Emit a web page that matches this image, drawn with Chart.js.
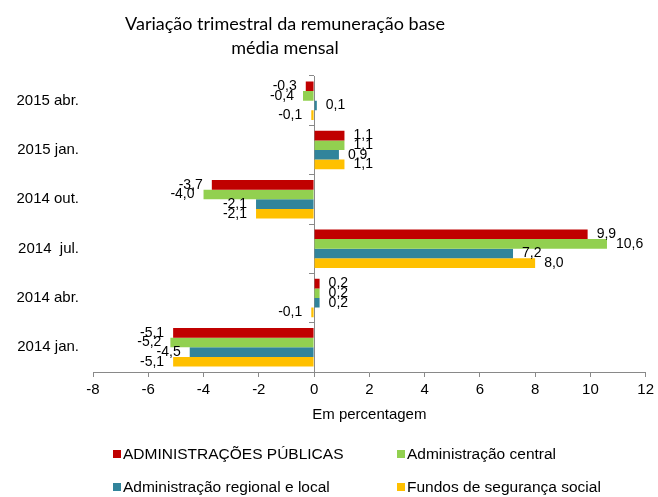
<!DOCTYPE html>
<html lang="pt">
<head>
    <meta charset="UTF-8">
    <title>Variação trimestral da remuneração base média mensal</title>
    <script src="https://cdn.jsdelivr.net/npm/chart.js"></script>
    <style>
        body {
            margin: 0;
            padding: 0;
            background-color: #ffffff;
        }
        #grafico {
            display: block;
        }
    </style>
</head>
<body>
    <canvas id="grafico" width="658" height="497"></canvas>

    <script>
        const titulo = ['Variação trimestral da remuneração base', 'média mensal'];
        const periodos = ['2015 abr.', '2015 jan.', '2014 out.', '2014  jul.', '2014 abr.', '2014 jan.'];
        const series = ['ADMINISTRAÇÕES PÚBLICAS', 'Administração central', 'Administração regional e local', 'Fundos de segurança social'];
        const cores = ['#C00000', '#92D050', '#31849B', '#FFC000'];

        const adminPublicas = [-0.3, 1.1, -3.7, 9.9, 0.2, -5.1];
        const adminCentral = [-0.4, 1.1, -4.0, 10.6, 0.2, -5.2];
        const adminRegional = [0.1, 0.9, -2.1, 7.2, 0.2, -4.5];
        const fundosSS = [-0.1, 1.1, -2.1, 8.0, -0.1, -5.1];

        const eixoX = { min: -8, max: 12, passo: 2 };

        const fonte = 'Liberation Sans, Arial, sans-serif';

        // titulo desenhado a mao para ficar centrado como no original
        const pluginTitulo = {
            id: 'titulo',
            afterDraw(chart) {
                const ctx = chart.ctx;
                ctx.save();
                ctx.fillStyle = '#000';
                ctx.font = '18px Lato, sans-serif';
                ctx.textAlign = 'center';
                ctx.textBaseline = 'alphabetic';
                ctx.fillText(titulo[0], 285, 30);
                ctx.fillText(titulo[1], 285, 54);
                ctx.restore();
            }
        };

        // rotulos de valor no fim de cada barra
        const pluginRotulos = {
            id: 'rotulos',
            afterDatasetsDraw(chart) {
                const ctx = chart.ctx;
                ctx.save();
                ctx.font = '14px ' + fonte;
                ctx.fillStyle = '#000';
                ctx.textBaseline = 'middle';
                chart.data.datasets.forEach((ds, i) => {
                    const meta = chart.getDatasetMeta(i);
                    meta.data.forEach((bar, j) => {
                        const v = ds.data[j];
                        const txt = v.toFixed(1).replace('.', ',');
                        if (v >= 0) {
                            ctx.textAlign = 'left';
                            ctx.fillText(txt, bar.x + 9, bar.y);
                        } else {
                            ctx.textAlign = 'right';
                            ctx.fillText(txt, bar.x - 9, bar.y);
                        }
                    });
                });
                ctx.restore();
            }
        };

        // legenda em duas colunas
        const pluginLegenda = {
            id: 'legenda2col',
            afterDraw(chart) {
                const ctx = chart.ctx;
                ctx.save();
                ctx.font = '15.5px ' + fonte;
                ctx.textBaseline = 'middle';
                ctx.textAlign = 'left';
                chart.data.datasets.forEach((ds, i) => {
                    const x = (i % 2 === 0) ? 113 : 397;
                    const y = (i < 2) ? 454 : 487;
                    ctx.fillStyle = ds.backgroundColor;
                    ctx.fillRect(x, y - 4, 8, 8);
                    ctx.fillStyle = '#000';
                    ctx.fillText(ds.label, x + 10, y + 1);
                });
                ctx.restore();
            }
        };

        const dados = [adminPublicas, adminCentral, adminRegional, fundosSS];

        new Chart(document.getElementById('grafico'), {
            type: 'bar',
            data: {
                labels: periodos,
                datasets: dados.map((d, i) => ({
                    label: series[i],
                    data: d,
                    backgroundColor: cores[i],
                    borderWidth: 0,
                    barPercentage: 1.0,
                    categoryPercentage: 0.78
                }))
            },
            options: {
                indexAxis: 'y',
                responsive: false,
                animation: false,
                layout: {
                    padding: { top: 76, right: 12, bottom: 73, left: 0 }
                },
                plugins: {
                    legend: { display: false },
                    title: { display: false },
                    tooltip: { enabled: false }
                },
                scales: {
                    x: {
                        min: eixoX.min,
                        max: eixoX.max,
                        ticks: {
                            stepSize: eixoX.passo,
                            color: '#000',
                            font: { family: fonte, size: 15 },
                            padding: 4
                        },
                        grid: {
                            drawOnChartArea: false,
                            tickLength: 5,
                            color: '#898989'
                        },
                        border: { color: '#898989' },
                        title: {
                            display: true,
                            text: 'Em percentagem',
                            color: '#000',
                            font: { family: fonte, size: 15 },
                            padding: { top: 3, bottom: 0 }
                        }
                    },
                    y: {
                        position: 'left',
                        ticks: {
                            color: '#000',
                            font: { family: fonte, size: 15 },
                            padding: 14
                        },
                        grid: { display: false, drawTicks: false },
                        border: { display: false },
                        afterFit(scale) { scale.width = 93; }
                    },
                    y2: {
                        type: 'category',
                        position: { x: 0 },
                        offset: true,
                        ticks: { display: false },
                        grid: {
                            offset: true,
                            drawOnChartArea: false,
                            tickLength: 5,
                            color: '#898989'
                        },
                        border: { color: '#898989' }
                    }
                }
            },
            plugins: [pluginTitulo, pluginRotulos, pluginLegenda]
        });
    </script>
</body>
</html>
